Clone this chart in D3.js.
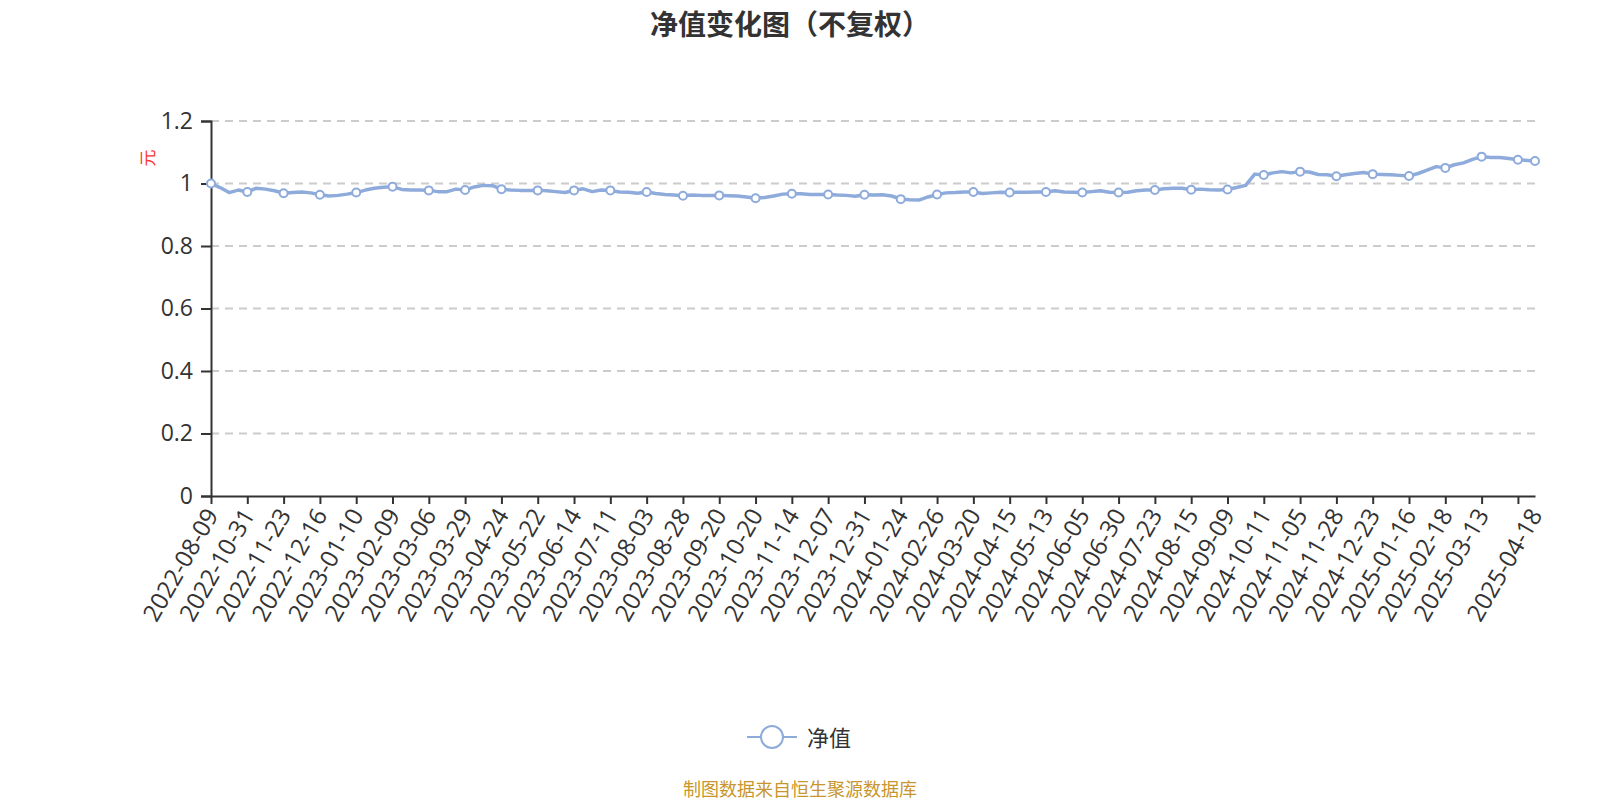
<!DOCTYPE html>
<html>
<head>
<meta charset="utf-8">
<script src="https://cdn.jsdelivr.net/npm/d3@7/dist/d3.min.js"></script>
<style>
  body { margin: 0; background: #fff; }
  text { font-family: "Open Sans", "Noto Sans CJK SC", sans-serif; }
</style>
</head>
<body>
<div></div>
<script>
// tick labels of the category axis (every 17th trading day, plus the last day)
var labelDates = ['2022-08-09', '2022-10-31', '2022-11-23', '2022-12-16', '2023-01-10', '2023-02-09',
    '2023-03-06', '2023-03-29', '2023-04-24', '2023-05-22', '2023-06-14', '2023-07-11', '2023-08-03',
    '2023-08-28', '2023-09-20', '2023-10-20', '2023-11-14', '2023-12-07', '2023-12-31', '2024-01-24',
    '2024-02-26', '2024-03-20', '2024-04-15', '2024-05-13', '2024-06-05', '2024-06-30', '2024-07-23',
    '2024-08-15', '2024-09-09', '2024-10-11', '2024-11-05', '2024-11-28', '2024-12-23', '2025-01-16',
    '2025-02-18', '2025-03-13', '2025-04-18'];
var dayStep = 17;     // trading days between two labels
var lastDay = 620;    // index of 2025-04-18
var samplesPerStep = 4;

// net value, 4 samples per label step
var navValues = [
    1.000, 0.987, 0.971, 0.979,
    0.973, 0.985, 0.982, 0.977,
    0.969, 0.971, 0.973, 0.970,
    0.964, 0.960, 0.962, 0.966,
    0.971, 0.979, 0.985, 0.988,
    0.990, 0.981, 0.979, 0.979,
    0.978, 0.974, 0.974, 0.982,
    0.979, 0.989, 0.994, 0.993,
    0.982, 0.979, 0.978, 0.978,
    0.978, 0.977, 0.974, 0.971,
    0.978, 0.983, 0.974, 0.979,
    0.978, 0.973, 0.972, 0.969,
    0.973, 0.968, 0.965, 0.963,
    0.961, 0.963, 0.962, 0.962,
    0.962, 0.961, 0.960, 0.957,
    0.953, 0.955, 0.960, 0.966,
    0.967, 0.967, 0.965, 0.965,
    0.965, 0.963, 0.962, 0.959,
    0.964, 0.963, 0.964, 0.960,
    0.950, 0.948, 0.947, 0.957,
    0.965, 0.970, 0.971, 0.973,
    0.973, 0.968, 0.970, 0.972,
    0.971, 0.972, 0.972, 0.973,
    0.973, 0.977, 0.973, 0.972,
    0.971, 0.974, 0.977, 0.972,
    0.971, 0.972, 0.977, 0.979,
    0.979, 0.983, 0.985, 0.985,
    0.980, 0.982, 0.980, 0.979,
    0.981, 0.987, 0.994, 1.030,
    1.027, 1.034, 1.038, 1.034,
    1.038, 1.037, 1.029, 1.028,
    1.023, 1.028, 1.032, 1.035,
    1.030, 1.029, 1.028, 1.026,
    1.024, 1.032, 1.043, 1.054,
    1.050, 1.060, 1.066, 1.077,
    1.086, 1.083, 1.083, 1.080,
    1.076
];
var lastValue = 1.072;

var yTicks = [0, 0.2, 0.4, 0.6, 0.8, 1, 1.2];

var width = 1600;
var height = 800;
var margin = { left: 211, right: 65, top: 121, bottom: 304 };
var lineColor = '#8eabdc';

var svg = d3.select('div')
    .append('svg')
    .attr('width', width)
    .attr('height', height);

var points = navValues.map(function (v, i) {
    return { day: i * dayStep / samplesPerStep, value: v, mark: i % samplesPerStep === 0 };
});
points.push({ day: lastDay, value: lastValue, mark: true });

var x = d3.scaleLinear()
    .domain([0, lastDay])
    .range([margin.left, width - margin.right]);
var y = d3.scaleLinear()
    .domain([0, 1.2])
    .range([height - margin.bottom, margin.top]);

// grid lines
svg.append('g')
    .selectAll('line')
    .data(yTicks.filter(function (d) { return d > 0; }))
    .enter()
    .append('line')
    .attr('x1', x(0))
    .attr('x2', x(lastDay))
    .attr('y1', function (d) { return y(d); })
    .attr('y2', function (d) { return y(d); })
    .attr('stroke', '#cccccc')
    .attr('stroke-width', 2)
    .attr('stroke-dasharray', '8,6');

// y axis
var yAxis = d3.axisLeft(y)
    .tickValues(yTicks)
    .tickFormat(function (d) { return d3.format('~g')(d); })
    .tickSize(10)
    .tickPadding(8);
var gy = svg.append('g')
    .attr('transform', 'translate(' + x(0) + ',0)')
    .call(yAxis);
gy.select('.domain').attr('stroke', '#333').attr('stroke-width', 2);
gy.selectAll('.tick line').attr('stroke', '#333').attr('stroke-width', 2);
gy.selectAll('.tick text')
    .attr('fill', '#333')
    .style('font-size', '23px');

// x axis: ticks every dayStep, labels on all but the tick right before the last day
var tickDays = d3.range(0, lastDay, dayStep);
var xAxis = d3.axisBottom(x)
    .tickValues(tickDays)
    .tickFormat('')
    .tickSize(8)
    .tickSizeOuter(0);
var gx = svg.append('g')
    .attr('transform', 'translate(0,' + y(0) + ')')
    .call(xAxis);
gx.select('.domain').attr('stroke', '#333').attr('stroke-width', 2);
gx.selectAll('.tick line').attr('stroke', '#333').attr('stroke-width', 2);

var labelDays = labelDates.map(function (d, i) {
    return i === labelDates.length - 1 ? lastDay : i * dayStep;
});
svg.append('g')
    .selectAll('text')
    .data(labelDates)
    .enter()
    .append('text')
    .attr('transform', function (d, i) {
        return 'translate(' + x(labelDays[i]) + ',' + (y(0) + 14) + ') rotate(-60)';
    })
    .attr('text-anchor', 'end')
    .attr('dominant-baseline', 'central')
    .attr('fill', '#333')
    .style('font-size', '24px')
    .text(function (d) { return d; });

// y axis name
svg.append('text')
    .attr('transform', 'translate(147,158) rotate(-90)')
    .attr('text-anchor', 'middle')
    .attr('dominant-baseline', 'central')
    .attr('fill', '#ff3333')
    .style('font-size', '17px')
    .text('元');

// the line
var line = d3.line()
    .x(function (d) { return x(d.day); })
    .y(function (d) { return y(d.value); });
svg.append('path')
    .datum(points)
    .attr('d', line)
    .attr('fill', 'none')
    .attr('stroke', lineColor)
    .attr('stroke-width', 3.5)
    .attr('stroke-linejoin', 'round');

svg.append('g')
    .selectAll('circle')
    .data(points.filter(function (d) { return d.mark; }))
    .enter()
    .append('circle')
    .attr('cx', function (d) { return x(d.day); })
    .attr('cy', function (d) { return y(d.value); })
    .attr('r', 4)
    .attr('fill', '#fff')
    .attr('stroke', lineColor)
    .attr('stroke-width', 2);

// title
svg.append('text')
    .attr('x', 790)
    .attr('y', 24)
    .attr('text-anchor', 'middle')
    .attr('dominant-baseline', 'central')
    .attr('fill', '#333')
    .attr('font-weight', 'bold')
    .style('font-size', '28px')
    .text('净值变化图（不复权）');

// legend
var legend = svg.append('g').attr('transform', 'translate(747,737)');
legend.append('line')
    .attr('x1', 0).attr('x2', 50)
    .attr('stroke', lineColor)
    .attr('stroke-width', 2);
legend.append('circle')
    .attr('cx', 25)
    .attr('r', 11)
    .attr('fill', '#fff')
    .attr('stroke', lineColor)
    .attr('stroke-width', 2);
legend.append('text')
    .attr('x', 60)
    .attr('dominant-baseline', 'central')
    .attr('fill', '#333')
    .style('font-size', '22px')
    .text('净值');

// source note
svg.append('text')
    .attr('x', 800)
    .attr('y', 789)
    .attr('text-anchor', 'middle')
    .attr('dominant-baseline', 'central')
    .attr('fill', '#c8962d')
    .style('font-size', '18px')
    .text('制图数据来自恒生聚源数据库');
</script>
</body>
</html>
